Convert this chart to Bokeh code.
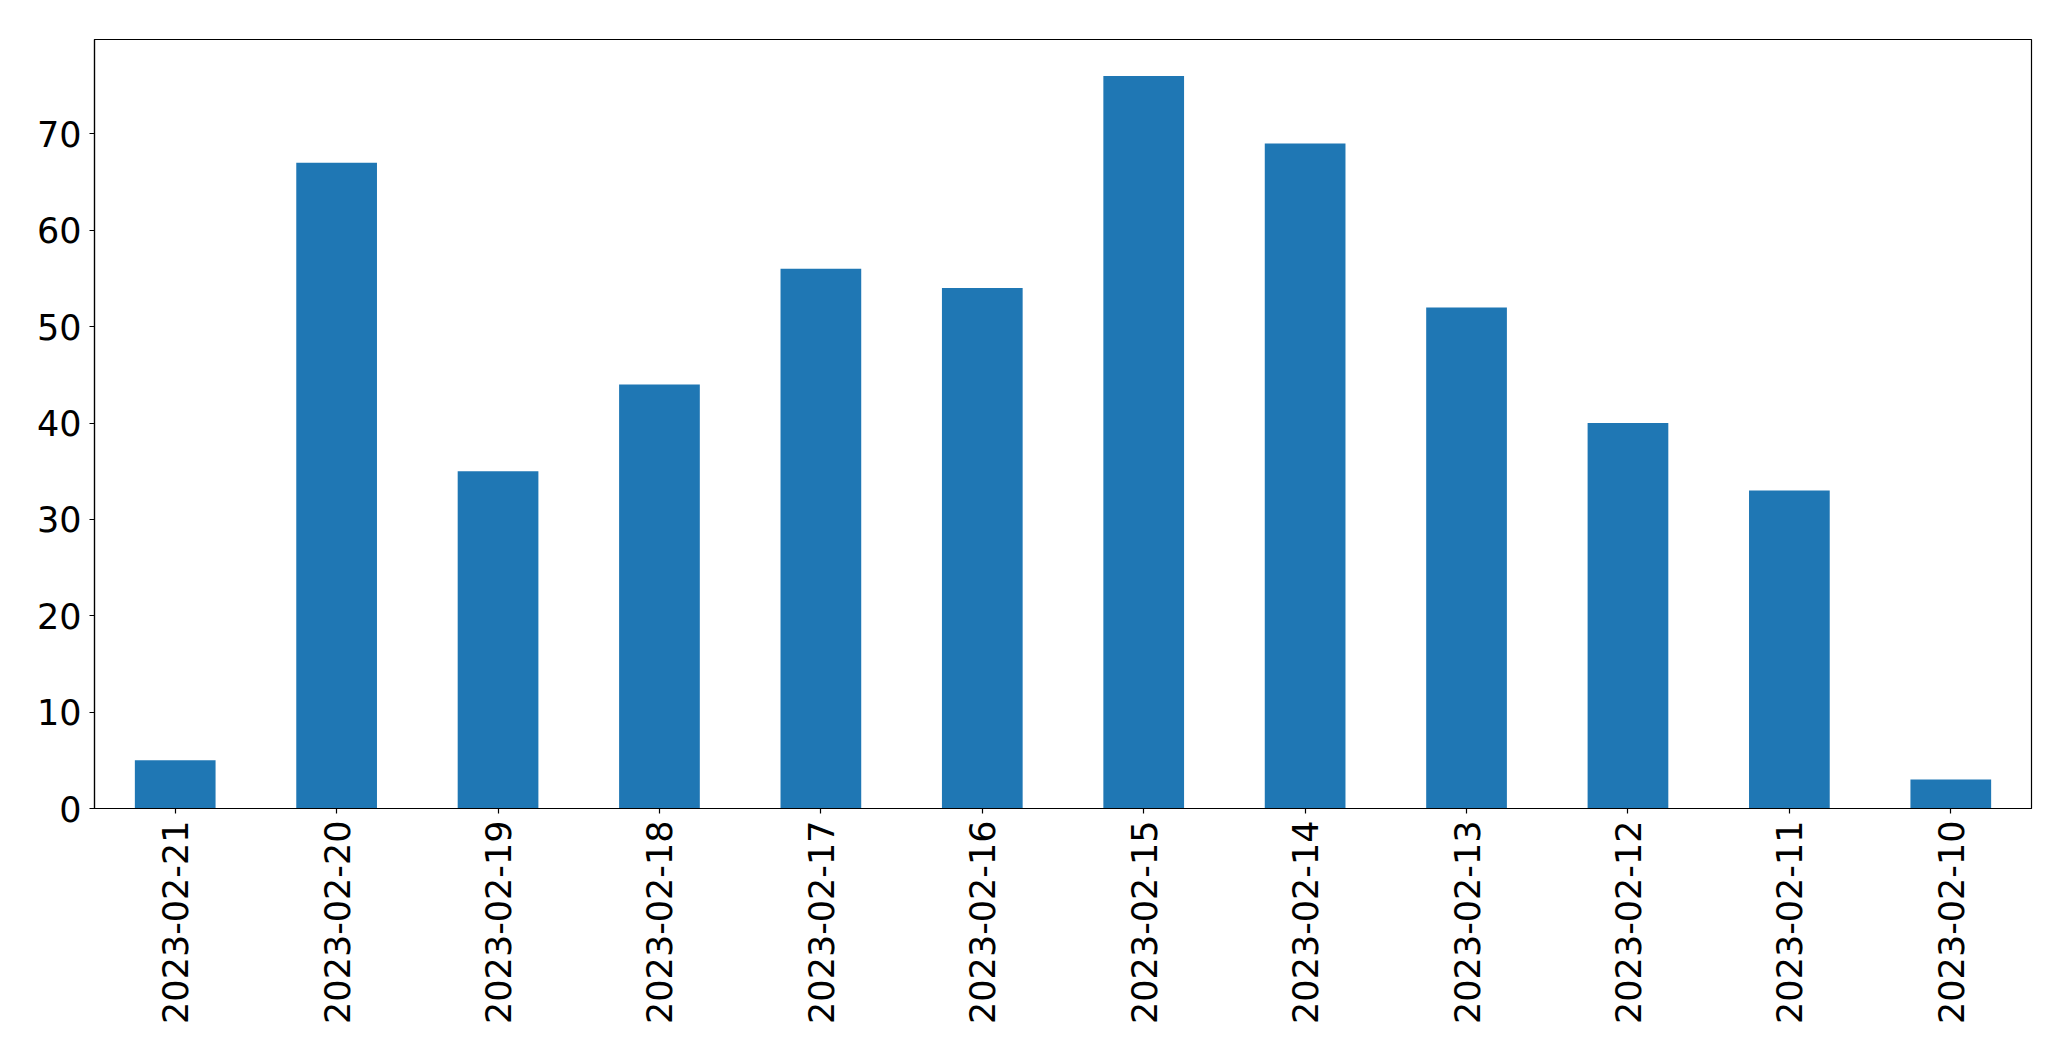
import math
from bokeh.plotting import figure
from bokeh.models import Range1d, FixedTicker
from bokeh.embed import file_html
from bokeh.resources import INLINE

dates = ["2023-02-21", "2023-02-20", "2023-02-19", "2023-02-18", "2023-02-17", "2023-02-16",
         "2023-02-15", "2023-02-14", "2023-02-13", "2023-02-12", "2023-02-11", "2023-02-10"]
counts = [5, 67, 35, 44, 56, 54, 76, 69, 52, 40, 33, 3]
y_ticks = [0, 10, 20, 30, 40, 50, 60, 70]

p = figure(x_range=dates, y_range=Range1d(0, 79.8), width=2062, height=1037,
           output_backend="svg", toolbar_location=None,
           min_border_left=94, min_border_right=31, min_border_top=39, min_border_bottom=229)

p.vbar(x=dates, top=counts, width=0.5, color="#1f77b4", line_color=None)

p.xgrid.grid_line_color = None
p.ygrid.grid_line_color = None
p.outline_line_color = "black"
p.outline_line_width = 1.2
p.outline_line_alpha = 1
p.background_fill_color = "white"
p.border_fill_color = "white"

p.yaxis.ticker = FixedTicker(ticks=y_ticks)
for ax in (p.xaxis, p.yaxis):
    ax.axis_line_color = "black"
    ax.axis_line_width = 1.2
    ax.major_tick_line_color = "black"
    ax.major_tick_line_width = 1.2
    ax.major_tick_in = 0
    ax.major_tick_out = 5
    ax.minor_tick_line_color = None
    ax.major_label_text_font = "DejaVu Sans"
    ax.major_label_text_font_size = "35px"
    ax.major_label_text_color = "black"

p.xaxis.major_label_orientation = math.pi / 2
p.xaxis.major_label_standoff = 7
p.yaxis.major_label_standoff = 8

open("out.html", "w").write(file_html(p, INLINE))
